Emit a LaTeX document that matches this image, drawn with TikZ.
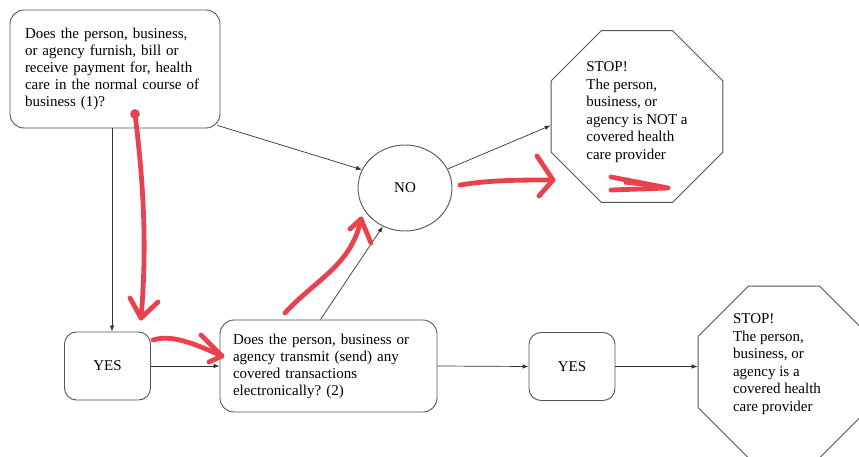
\documentclass[tikz,border=0pt]{standalone}
\usepackage{fontspec}
\setmainfont{Liberation Serif}
\usetikzlibrary{arrows.meta,shapes.geometric}
\definecolor{edge}{HTML}{555555}
\definecolor{pen}{HTML}{E8424F}
\frenchspacing
\tikzset{
  boxst/.style={draw=edge, line width=0.9pt, rounded corners=14pt, inner xsep=0pt, inner ysep=0pt, align=left, font=\fontsize{15}{17}\selectfont},
  yesst/.style={draw=edge, line width=0.9pt, rounded corners=12pt, minimum width=86pt, minimum height=68pt, font=\fontsize{15}{17}\selectfont},
  nost/.style={draw=edge, line width=0.9pt, ellipse, minimum width=94pt, minimum height=86pt, font=\fontsize{15}{17}\selectfont},
  octst/.style={draw=edge, line width=0.9pt, regular polygon, regular polygon sides=8, minimum size=186pt, inner sep=0pt},
  txtst/.style={align=left, inner sep=0pt, font=\fontsize{15}{17.5}\selectfont},
  conn/.style={draw=black!80, line width=0.7pt, -{Latex[length=6pt,width=4.5pt]}},
  redpen/.style={draw=pen, line width=4.8pt, line cap=round, line join=round},
}
\begin{document}
\begin{tikzpicture}[x=1pt,y=-1pt]
\useasboundingbox (0,0) rectangle (859,457);
\clip (0,0) rectangle (859,457);
\fill[white] (0,0) rectangle (859,457);
% nodes
\node[boxst, minimum width=210pt, minimum height=118pt, text width=180pt] (box1) at (115,69)
  {Does the person, business,\\or agency furnish, bill or\\receive payment for, health\\care in the normal course of\\business (1)?};
\node[nost] (no) at (405,188) {NO};
\node[octst] (stop1) at (637,116.5) {};
\node[txtst] (stop1t) at (637,112) {STOP!\\The person,\\business, or\\agency is NOT a\\covered health\\care provider};
\node[yesst] (yes1) at (107.5,366) {YES};
\node[boxst, minimum width=217pt, minimum height=92pt, text width=191pt] (box2) at (328.5,366)
  {Does the person, business or\\agency transmit (send) any\\covered transactions\\electronically? (2)};
\node[yesst] (yes2) at (572,366.5) {YES};
\node[octst] (stop2) at (784,372) {};
\node[txtst] (stop2t) at (777,364) {STOP!\\The person,\\business, or\\agency is a\\covered health\\care provider};
% connectors
\draw[conn] ([xshift=4.5pt]yes1.north |- box1.south) -- ([xshift=4.5pt]yes1.north);
\draw[conn] ([xshift=-3pt,yshift=3pt]box1.south east) -- (no.157);
\draw[conn] (no.24) -- ([yshift=-9pt]stop1.west);
\draw[conn] (yes1.east) -- (box2.west);
\draw[conn] ([xshift=-8pt]box2.north) -- (no.240);
\draw[conn] (box2.east) -- (yes2.west);
\draw[conn] (yes2.east) -- (yes2.east -| stop2.west);
% red annotations
\draw[draw=pen, line width=2.5pt] (135,114) circle (3.5);
\draw[redpen] (135,114) .. controls (142,170) and (148,240) .. (141,318);
\draw[redpen] (130,298) -- (141,318) -- (158,302);
\draw[redpen] (153,340) .. controls (172,334) and (195,344) .. (222,356);
\draw[redpen] (201,335) -- (222,356) -- (209,362);
\draw[redpen] (285,313) .. controls (315,280) and (352,265) .. (361,219);
\draw[redpen] (350,229) -- (361,219) -- (371,243);
\draw[redpen] (460,185) .. controls (490,180) and (520,180) .. (553,180);
\draw[redpen] (537,156) -- (553,180) -- (539,196);
\draw[redpen] (611,177) -- (668,188) -- (611,190);
\draw[redpen, line width=3pt] (625,183) -- (660,187);
\end{tikzpicture}
\end{document}
